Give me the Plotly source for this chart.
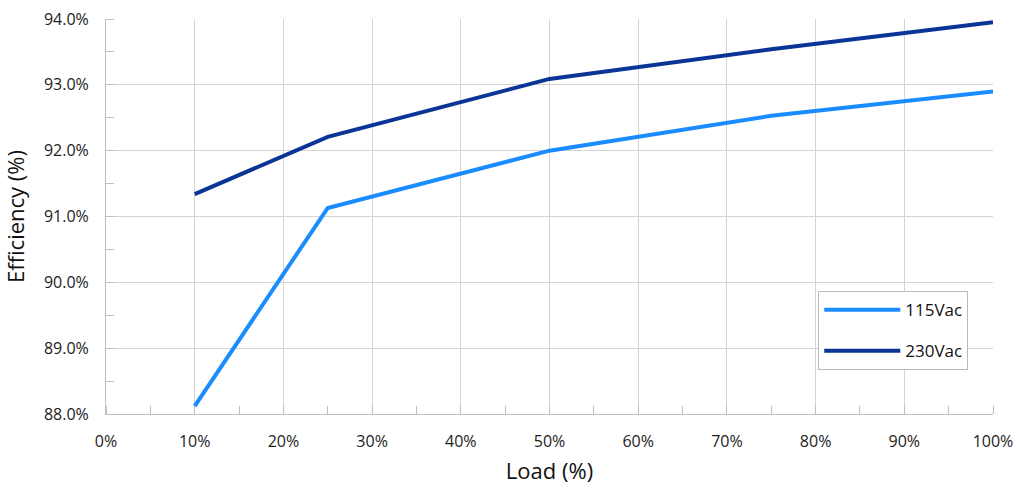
import plotly.graph_objects as go

load = [10, 25, 50, 75, 100]
eff_115 = [88.12, 91.13, 92.00, 92.53, 92.90]
eff_230 = [91.34, 92.21, 93.09, 93.54, 93.95]
x_ticks = list(range(0, 101, 10))
x_labels = [f"{v}%" for v in x_ticks]
y_ticks = [88, 89, 90, 91, 92, 93, 94]
y_labels = [f"{v:.1f}%" for v in y_ticks]

FONT = "Open Sans, Noto Sans, sans-serif"
fig = go.Figure()
fig.add_trace(go.Scatter(x=load, y=eff_115, mode="lines", name="115Vac",
                         line=dict(color="#1A8CFF", width=4), legendgroup="a"))
fig.add_trace(go.Scatter(x=load, y=eff_230, mode="lines", name="230Vac",
                         line=dict(color="#0A3596", width=4), legendgroup="b"))

fig.update_layout(
    width=1016, height=489,
    margin=dict(l=106, r=23, t=19, b=75),
    paper_bgcolor="white", plot_bgcolor="white",
    font=dict(family=FONT, color="#222", size=16),
    showlegend=True,
    legend=dict(x=0.803, y=0.311, xanchor="left", yanchor="top",
                bordercolor="#BBBBBB", borderwidth=1, bgcolor="white",
                font=dict(size=17, color="#111"), traceorder="grouped",
                tracegroupgap=16, itemwidth=76, entrywidth=140),
    xaxis=dict(range=[0, 100], tickvals=x_ticks, ticktext=x_labels,
               showgrid=True, gridcolor="#D4D4D4", gridwidth=1,
               showline=True, linecolor="#BFBFBF", linewidth=1,
               ticks="", zeroline=False, automargin=False,
               ticklabelstandoff=13,
               minor=dict(dtick=5, ticks="inside", ticklen=8, tickcolor="#BFBFBF", showgrid=False),
               title=dict(text="Load (%)", font=dict(size=22, color="#111"), standoff=12),
               tickfont=dict(size=16)),
    yaxis=dict(range=[88, 94], tickvals=y_ticks, ticktext=y_labels,
               showgrid=True, gridcolor="#D4D4D4", gridwidth=1,
               showline=True, linecolor="#BFBFBF", linewidth=1,
               ticks="", zeroline=False, automargin=False,
               ticklabelstandoff=13,
               minor=dict(dtick=0.5, ticks="inside", ticklen=8, tickcolor="#BFBFBF", showgrid=False),
               title=dict(text="Efficiency (%)", font=dict(size=22, color="#111"), standoff=14),
               tickfont=dict(size=16)),
)
fig.write_html("out.html")
